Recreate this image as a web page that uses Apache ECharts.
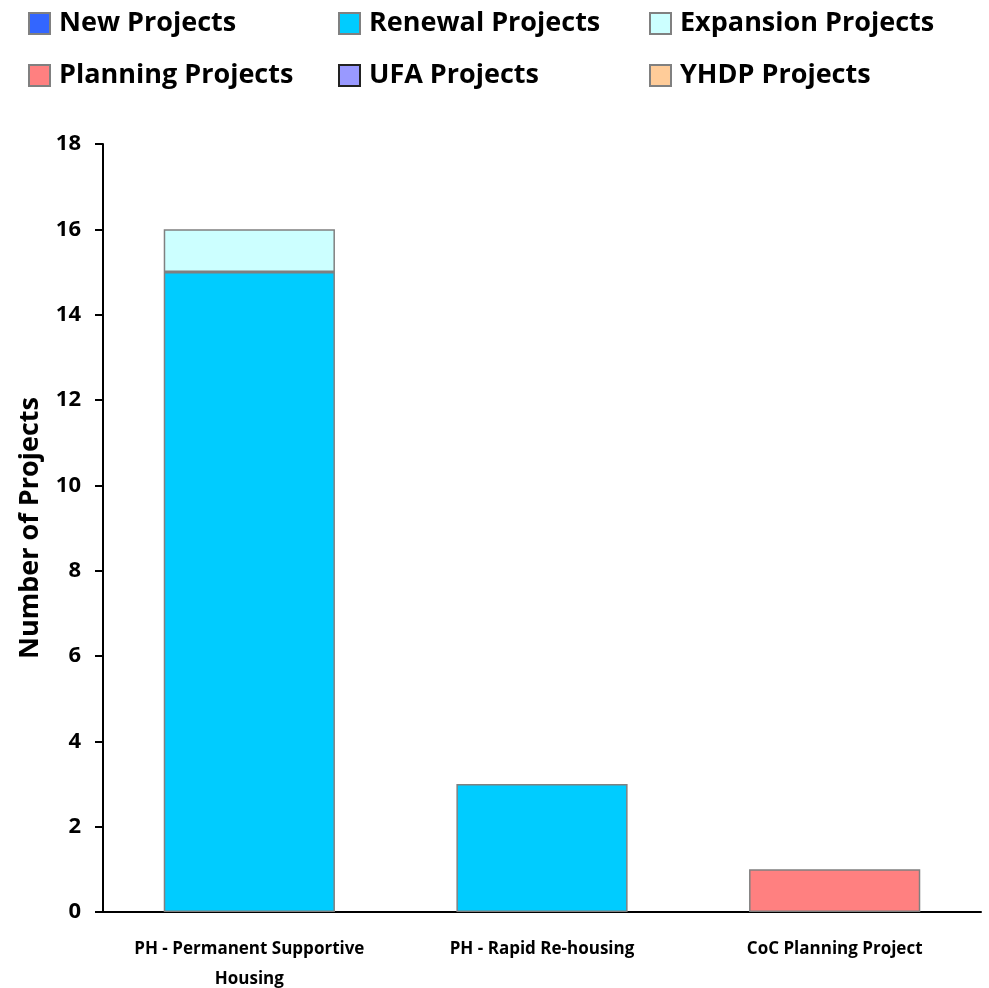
<!DOCTYPE html>
<html><head><meta charset="utf-8">
<script src="https://cdn.jsdelivr.net/npm/echarts@6/dist/echarts.min.js"></script>
<style>html,body{margin:0;padding:0;background:#fff;overflow:hidden}#c{width:989px;height:988px}</style>
</head><body><div id="c"></div>
<script>
const categories = ['PH - Permanent Supportive\nHousing', 'PH - Rapid Re-housing', 'CoC Planning Project'];
const seriesNames = ['New Projects', 'Renewal Projects', 'Expansion Projects', 'Planning Projects', 'UFA Projects', 'YHDP Projects'];
const newProjects = [0, 0, 0];
const renewalProjects = [15, 3, 0];
const expansionProjects = [1, 0, 0];
const planningProjects = [0, 0, 1];
const ufaProjects = [0, 0, 0];
const yhdpProjects = [0, 0, 0];
const colors = ['#3366FF', '#00CCFF', '#CCFFFF', '#FF8080', '#9999FF', '#FFCC99'];
const yTicks = [0, 2, 4, 6, 8, 10, 12, 14, 16, 18];

const values = [newProjects, renewalProjects, expansionProjects, planningProjects, ufaProjects, yhdpProjects];
const FONT = 'Open Sans';
const legendPos = [[28, 10], [338, 10], [649, 10], [28, 62], [338, 62], [649, 62]];
const chart = echarts.init(document.getElementById('c'), null, {renderer: 'canvas'});
chart.setOption({
  animation: false,
  backgroundColor: '#fff',
  textStyle: {fontFamily: FONT},
  legend: seriesNames.map((n, i) => ({
    data: [n], left: legendPos[i][0], top: legendPos[i][1], itemWidth: 21, itemHeight: 21, itemGap: 10,
    icon: 'rect', padding: 0,
    itemStyle: {borderColor: i === 4 ? '#222' : '#808080', borderWidth: 2},
    textStyle: {fontFamily: FONT, fontWeight: 'bold', fontSize: 27, color: '#000', padding: [0, 0, 0, 4]}
  })),
  grid: {left: 103, right: 8, top: 144, bottom: 76, containLabel: false, outerBoundsMode: 'none'},
  xAxis: {
    type: 'category', data: categories,
    axisLine: {lineStyle: {color: '#000', width: 2}},
    axisTick: {show: false},
    axisLabel: {fontFamily: FONT, fontWeight: 'bold', fontSize: 17, color: '#000', margin: 22, lineHeight: 30, interval: 0}
  },
  yAxis: {
    type: 'value', min: 0, max: 18, interval: 2,
    name: 'Number of Projects', nameLocation: 'middle', nameGap: 59, nameRotate: 90,
    nameTextStyle: {fontFamily: FONT, fontWeight: 'bold', fontSize: 27, color: '#000'},
    axisLine: {show: true, lineStyle: {color: '#000', width: 2}},
    axisTick: {show: true, length: 8, lineStyle: {color: '#000', width: 2}},
    splitLine: {show: false},
    axisLabel: {fontFamily: FONT, fontWeight: 'bold', fontSize: 22, color: '#000', margin: 22,
      formatter: v => yTicks.includes(v) ? String(v) : ''}
  },
  series: seriesNames.map((n, i) => ({
    name: n, type: 'bar', stack: 'total', barWidth: '58.5%',
    data: values[i].map(v => v === 0 ? '-' : v),
    itemStyle: {color: colors[i], borderColor: '#808080', borderWidth: 1.5}
  }))
});
</script></body></html>
